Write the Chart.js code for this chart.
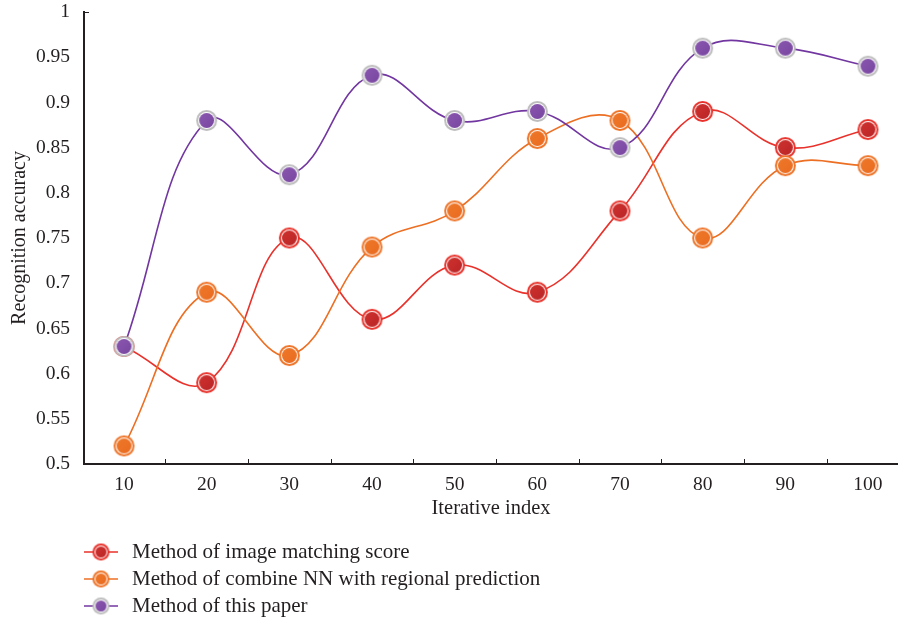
<!DOCTYPE html>
<html><head><meta charset="utf-8">
<script src="https://cdn.jsdelivr.net/npm/chart.js@4/dist/chart.umd.min.js"></script>
<style>
html,body{margin:0;padding:0;background:#fff;}
#wrap{position:relative;width:898px;height:622px;overflow:hidden;}
#c{position:absolute;left:0;top:0;}
#legend{position:absolute;left:84px;top:538px;font-family:"Liberation Serif","Times New Roman",serif;font-size:21px;color:#231f20;}
.row{display:flex;align-items:center;height:27px;white-space:nowrap;}
.row canvas{margin-right:14px;display:block;}
</style></head>
<body><div id="wrap"><canvas id="c" width="898" height="622"></canvas><div id="legend"></div></div>
<script>
// ---- data ----
const iterations = [10, 20, 30, 40, 50, 60, 70, 80, 90, 100];
const imageMatchingScore = [0.63, 0.59, 0.75, 0.66, 0.72, 0.69, 0.78, 0.89, 0.85, 0.87];
const combineNNRegional = [0.52, 0.69, 0.62, 0.74, 0.78, 0.86, 0.88, 0.75, 0.83, 0.83];
const thisPaperMethod = [0.63, 0.88, 0.82, 0.93, 0.88, 0.89, 0.85, 0.96, 0.96, 0.94];
const yTickValues = [0.5, 0.55, 0.6, 0.65, 0.7, 0.75, 0.8, 0.85, 0.9, 0.95, 1];
const seriesNames = [
  "Method of image matching score",
  "Method of combine NN with regional prediction",
  "Method of this paper"
];
const xTitle = "Iterative index";
const yTitle = "Recognition accuracy";

// ---- styles ----
const FONT = '"Liberation Serif", "Times New Roman", serif';
const INK = '#231f20';
const styles = [
  {line: '#e8322b', ring: '#e8322b', fill: '#b82226', fill2: '#d0352f'},
  {line: '#ec6f23', ring: '#ee7428', fill: '#e9691f', fill2: '#ef7b2c'},
  {line: '#7236a0', ring: '#bdbdbd', fill: '#74439c', fill2: '#8f5bb3'}
];

function makeMarker(s, r) {
  const size = Math.ceil(r * 2 + 2);
  const cv = document.createElement('canvas');
  cv.width = size; cv.height = size;
  const g = cv.getContext('2d');
  const c = size / 2;
  g.beginPath(); g.arc(c, c, r, 0, Math.PI * 2); g.fillStyle = s.ring; g.fill();
  g.beginPath(); g.arc(c, c, r - 2, 0, Math.PI * 2); g.fillStyle = '#ffffff'; g.fill();
  const grad = g.createLinearGradient(c - r, c - r, c + r, c + r);
  grad.addColorStop(0, s.fill2); grad.addColorStop(1, s.fill);
  g.beginPath(); g.arc(c, c, r - 3, 0, Math.PI * 2); g.fillStyle = grad; g.fill();
  return cv;
}
function makeLegendIcon(s) {
  const cv = document.createElement('canvas');
  cv.width = 34; cv.height = 20;
  const g = cv.getContext('2d');
  g.strokeStyle = s.line; g.lineWidth = 1.6;
  g.beginPath(); g.moveTo(0, 10); g.lineTo(34, 10); g.stroke();
  const m = makeMarker(s, 8.5);
  g.drawImage(m, 17 - m.width / 2, 10 - m.height / 2);
  return cv;
}

const seriesValues = [imageMatchingScore, combineNNRegional, thisPaperMethod];
const datasets = seriesValues.map((vals, i) => ({
  label: seriesNames[i],
  data: iterations.map((x, k) => ({x: x, y: vals[k]})),
  borderColor: styles[i].line,
  borderWidth: 1.6,
  tension: 0.4,
  fill: false,
  pointStyle: makeMarker(styles[i], 10.5),
  order: 2 - i
}));

const midTicks = {
  id: 'midTicks',
  afterDraw(chart) {
    const ctx = chart.ctx, xs = chart.scales.x, ys = chart.scales.y;
    ctx.save();
    ctx.strokeStyle = INK; ctx.lineWidth = 1;
    ctx.beginPath();
    for (let i = 0; i < iterations.length; i++) {
      const v = iterations[i] + (i < iterations.length - 1 ? (iterations[i + 1] - iterations[i]) / 2 : 5);
      const px = Math.round(xs.getPixelForValue(v)) + 0.5;
      ctx.moveTo(px, ys.bottom); ctx.lineTo(px, ys.bottom - 5);
    }
    const py = Math.round(ys.getPixelForValue(1)) + 0.5;
    ctx.moveTo(xs.left, py); ctx.lineTo(xs.left + 5, py);
    ctx.stroke();
    ctx.restore();
  }
};

new Chart(document.getElementById('c'), {
  type: 'line',
  data: {datasets: datasets},
  plugins: [midTicks],
  options: {
    responsive: false,
    animation: false,
    events: [],
    layout: {autoPadding: false, padding: {left: 0, right: 0, top: 12, bottom: 100.6}},
    plugins: {legend: {display: false}, tooltip: {enabled: false}},
    scales: {
      x: {
        type: 'linear',
        min: 5.16, max: 103.63,
        afterBuildTicks(scale) { scale.ticks = iterations.map(v => ({value: v})); },
        afterFit(scale) { scale.height = 57.4; },
        grid: {display: false, drawTicks: true, tickLength: 9},
        border: {display: true, color: INK, width: 2},
        ticks: {
          padding: 0, color: INK, maxRotation: 0, autoSkip: false,
          font: {family: FONT, size: 19.5},
          callback: v => String(v)
        },
        title: {display: true, text: xTitle, color: INK, padding: {top: 0, bottom: 0},
          font: {family: FONT, size: 20.5}}
      },
      y: {
        type: 'linear',
        min: 0.5, max: 1,
        afterBuildTicks(scale) { scale.ticks = yTickValues.map(v => ({value: v})); },
        afterFit(scale) { scale.width = 84; },
        grid: {display: false, drawTicks: true, tickLength: 14},
        border: {display: true, color: INK, width: 2},
        ticks: {
          padding: 0, color: INK, autoSkip: false,
          font: {family: FONT, size: 19.5},
          callback: v => String(+Number(v).toFixed(2))
        },
        title: {display: true, text: yTitle, color: INK, padding: {top: 8, bottom: 0},
          font: {family: FONT, size: 20}}
      }
    }
  }
});

const legend = document.getElementById('legend');
seriesNames.forEach((name, i) => {
  const row = document.createElement('div');
  row.className = 'row';
  row.appendChild(makeLegendIcon(styles[i]));
  const span = document.createElement('span');
  span.textContent = name;
  row.appendChild(span);
  legend.appendChild(row);
});
</script>
</body></html>
